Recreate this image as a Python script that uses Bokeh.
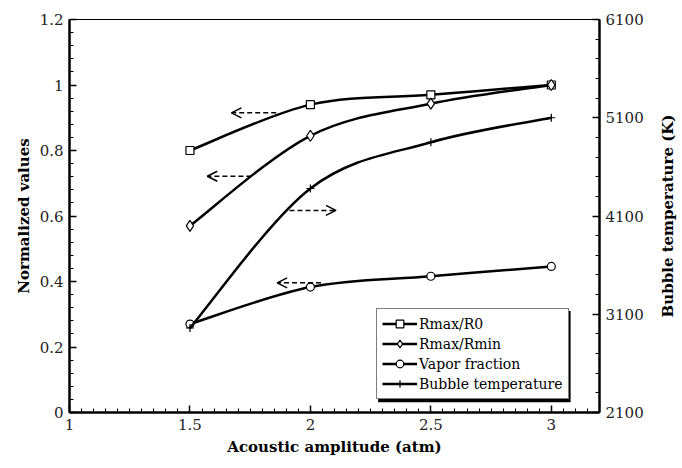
import numpy as np
from bokeh.plotting import figure
from bokeh.layouts import row
from bokeh.models import (Range1d, LinearAxis, FixedTicker, CustomJSTickFormatter,
                          Legend, LegendItem, Arrow, OpenHead, ColumnDataSource,
                          BoxAnnotation)
from bokeh.embed import file_html
from bokeh.resources import INLINE

# ---- data ----
amplitude = [1.5, 2.0, 2.5, 3.0]
rmax_r0 = [0.80, 0.94, 0.97, 1.00]
rmax_rmin = [0.57, 0.845, 0.943, 1.00]
vapor_fraction = [0.27, 0.383, 0.416, 0.446]
bubble_temp = [2960, 4380, 4850, 5100]

x_ticks = [1, 1.5, 2, 2.5, 3]
left_ticks = [0, 0.2, 0.4, 0.6, 0.8, 1.0, 1.2]
right_ticks = [2100, 3100, 4100, 5100, 6100]

# arrows: (x_start, x_end, y_left_axis)
arrows = [(1.858, 1.672, 0.915), (1.755, 1.572, 0.7215),
          (1.913, 2.106, 0.617), (2.044, 1.862, 0.396)]

FONT = "DejaVu Serif"

p = figure(width=646, height=468, output_backend="svg", toolbar_location=None,
           x_range=Range1d(1, 3.2), y_range=Range1d(0, 1.2),
           min_border_left=69, min_border_right=45, min_border_top=19,
           min_border_bottom=56)
p.extra_y_ranges = {"temp": Range1d(2100, 6100)}
p.grid.visible = False
p.outline_line_color = "black"
p.outline_line_width = 1
p.background_fill_color = "white"
p.border_fill_color = "white"

fmt = CustomJSTickFormatter(code="return String(Math.round(tick*100)/100);")


def style_axis(ax, ticks, minor):
    ax.ticker = FixedTicker(ticks=ticks, minor_ticks=minor)
    ax.formatter = fmt
    ax.axis_line_width = 2.5
    ax.axis_line_color = "black"
    ax.major_tick_in = 7
    ax.major_tick_out = 0
    ax.minor_tick_in = 4
    ax.minor_tick_out = 0
    ax.major_tick_line_width = 1.5
    ax.minor_tick_line_width = 1
    ax.major_label_text_font = FONT
    ax.major_label_text_font_size = "15px"
    ax.major_label_text_color = "#222222"
    ax.axis_label_text_font = FONT
    ax.axis_label_text_font_size = "15px"
    ax.axis_label_text_font_style = "bold"
    ax.axis_label_text_color = "black"


xa = p.xaxis[0]
style_axis(xa, x_ticks, [round(v, 2) for v in np.arange(1, 3.2001, 0.05)])
xa.axis_label = "Acoustic amplitude (atm)"
xa.major_label_standoff = 6
xa.axis_label_standoff = 5

ya = p.yaxis[0]
style_axis(ya, left_ticks, [round(v, 2) for v in np.arange(0, 1.2001, 0.04)])
ya.axis_label = "Normalized values"
ya.major_label_standoff = 6
ya.axis_label_standoff = 4

ra = LinearAxis(y_range_name="temp")
style_axis(ra, right_ticks, list(range(2100, 6101, 200)))
ra.major_label_standoff = 6
p.add_layout(ra, "right")


def bezier_segments(xs, ys):
    n = len(xs)
    out = dict(x0=[], y0=[], x1=[], y1=[], cx0=[], cy0=[], cx1=[], cy1=[])
    for i in range(n - 1):
        im1 = max(i - 1, 0)
        ip2 = min(i + 2, n - 1)
        out["x0"].append(xs[i]); out["y0"].append(ys[i])
        out["x1"].append(xs[i + 1]); out["y1"].append(ys[i + 1])
        out["cx0"].append(xs[i] + (xs[i + 1] - xs[im1]) / 6)
        out["cy0"].append(ys[i] + (ys[i + 1] - ys[im1]) / 6)
        out["cx1"].append(xs[i + 1] - (xs[ip2] - xs[i]) / 6)
        out["cy1"].append(ys[i + 1] - (ys[ip2] - ys[i]) / 6)
    return ColumnDataSource(out)


series = [
    ("Rmax/R0", rmax_r0, "square", 8, "default"),
    ("Rmax/Rmin", rmax_rmin, "diamond", 11, "default"),
    ("Vapor fraction", vapor_fraction, "circle", 8, "default"),
    ("Bubble temperature", bubble_temp, "cross", 8, "temp"),
]

items = []
for name, ys, marker, size, rng in series:
    src = bezier_segments(amplitude, ys)
    p.bezier(x0="x0", y0="y0", x1="x1", y1="y1", cx0="cx0", cy0="cy0",
             cx1="cx1", cy1="cy1", source=src, line_color="black",
             line_width=2.5, y_range_name=rng)
    leg_line = p.line(x=amplitude[:1], y=ys[:1], line_color="black",
                      line_width=2.5, y_range_name=rng)
    sc = p.scatter(x=amplitude, y=ys, marker=marker, size=size,
                   fill_color="white", line_color="black", line_width=1.2,
                   y_range_name=rng)
    items.append(LegendItem(label=name, renderers=[leg_line, sc]))

for xs, xe, yv in arrows:
    p.add_layout(Arrow(x_start=xs, y_start=yv, x_end=xe, y_end=yv,
                       line_color="black", line_width=1.5, line_dash="5 3",
                       end=OpenHead(size=10, line_color="black", line_width=1.5)))

# legend drop shadow
p.add_layout(BoxAnnotation(left=2.281, right=3.080, bottom=0.031, top=0.31,
                           fill_color="black", fill_alpha=1, line_alpha=0))

legend = Legend(items=items, location=(307, 13))
legend.label_text_font = FONT
legend.label_text_font_size = "14px"
legend.label_text_color = "black"
legend.glyph_width = 35
legend.glyph_height = 19
legend.label_height = 19
legend.label_standoff = 2
legend.spacing = 1
legend.padding = 5
legend.margin = 0
legend.border_line_color = "black"
legend.border_line_width = 1.2
legend.background_fill_alpha = 1
p.add_layout(legend, "center")

# narrow companion figure carrying the right-hand axis title (reads bottom-to-top)
p2 = figure(width=36, height=468, output_backend="svg", toolbar_location=None,
            x_range=Range1d(0, 1), y_range=Range1d(0, 1),
            x_axis_location=None,
            min_border_left=30, min_border_right=0, min_border_top=19,
            min_border_bottom=56)
p2.grid.visible = False
p2.outline_line_color = None
p2.background_fill_color = "white"
p2.border_fill_color = "white"
ta = p2.yaxis[0]
ta.ticker = FixedTicker(ticks=[])
ta.axis_line_color = None
ta.major_tick_line_color = None
ta.minor_tick_line_color = None
ta.major_tick_in = 0
ta.major_tick_out = 0
ta.minor_tick_in = 0
ta.minor_tick_out = 0
ta.major_label_standoff = 0
ta.axis_label = "Bubble temperature (K)"
ta.axis_label_standoff = 0
ta.axis_label_text_font = FONT
ta.axis_label_text_font_size = "15px"
ta.axis_label_text_font_style = "bold"
ta.axis_label_text_color = "black"

layout = row(p, p2, spacing=0)

open("out.html", "w").write(file_html(layout, INLINE))
